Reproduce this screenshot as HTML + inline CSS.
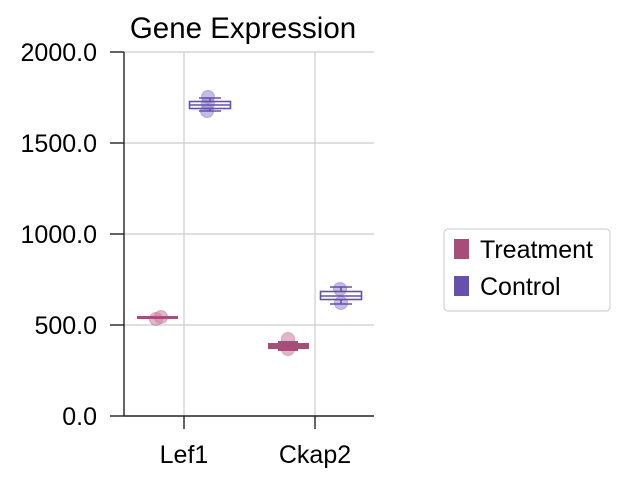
<!DOCTYPE html>
<html><head><style>body{margin:0;background:#fff}</style></head><body>
<svg width="626" height="483" xmlns="http://www.w3.org/2000/svg" font-family="Liberation Sans, sans-serif">
<rect width="626" height="483" fill="#fff"/>
<g stroke="#cccccc" stroke-width="1.2">
<line x1="124" x2="374" y1="52" y2="52"/>
<line x1="124" x2="374" y1="143" y2="143"/>
<line x1="124" x2="374" y1="234" y2="234"/>
<line x1="124" x2="374" y1="325" y2="325"/>
<line x1="184" x2="184" y1="52" y2="416"/>
<line x1="315" x2="315" y1="52" y2="416"/>
</g>
<g stroke="#222" stroke-width="1.4">
<line x1="124" x2="124" y1="52" y2="416"/>
<line x1="124" x2="374" y1="416" y2="416"/>
<line x1="110" x2="124" y1="52" y2="52"/><line x1="110" x2="124" y1="143" y2="143"/>
<line x1="110" x2="124" y1="234" y2="234"/><line x1="110" x2="124" y1="325" y2="325"/>
<line x1="110" x2="124" y1="416" y2="416"/>
<line x1="184" x2="184" y1="416" y2="429"/><line x1="315" x2="315" y1="416" y2="429"/>
</g>
<g font-size="25" fill="#000" text-anchor="end">
<text x="97" y="61">2000.0</text><text x="97" y="152">1500.0</text>
<text x="97" y="243">1000.0</text><text x="97" y="334">500.0</text><text x="97" y="425">0.0</text>
</g>
<g font-size="25" text-anchor="middle">
<text x="184" y="463">Lef1</text><text x="315" y="463">Ckap2</text>
<text x="243" y="38" font-size="29.5">Gene Expression</text>
</g>
<g fill="#9b8fd0" fill-opacity="0.6" stroke="#8a7cc9" stroke-opacity="0.5">
<circle cx="208" cy="97" r="6.5"/><circle cx="208" cy="104" r="6.5"/><circle cx="207" cy="111" r="6.5"/>
<circle cx="340" cy="289" r="6.5"/><circle cx="341" cy="303" r="6.5"/>
</g>
<g fill="#c987a5" fill-opacity="0.6" stroke="#c0789a" stroke-opacity="0.5">
<circle cx="156" cy="319" r="6.5"/><circle cx="161" cy="317" r="6.5"/>
<circle cx="288" cy="339" r="6.5"/><circle cx="288" cy="349" r="6.5"/>
</g>
<g stroke="#6550ae" stroke-width="1.6" fill="none">
<rect x="189.5" y="101.5" width="41" height="7"/><line x1="189" x2="231" y1="105" y2="105"/>
<line x1="210" x2="210" y1="98" y2="101"/><line x1="210" x2="210" y1="109" y2="111"/>
<line x1="199" x2="221" y1="98" y2="98"/><line x1="199" x2="221" y1="111" y2="111"/>
<rect x="320.5" y="291.5" width="41" height="8"/><line x1="320" x2="362" y1="296" y2="296"/>
<line x1="341" x2="341" y1="287" y2="291"/><line x1="341" x2="341" y1="300" y2="304"/>
<line x1="330" x2="352" y1="287" y2="287"/><line x1="330" x2="352" y1="304" y2="304"/>
</g>
<g fill="#a84c78">
<rect x="137" y="316" width="41" height="3"/>
<rect x="268" y="343" width="41" height="6"/><rect x="278" y="341" width="20" height="10"/>
</g>
<rect x="444" y="229" width="166" height="82" rx="4" fill="#fff" stroke="#d4d4d4" stroke-width="1.2"/>
<rect x="454" y="239" width="15" height="20" fill="#a84c78"/>
<rect x="454" y="276" width="15" height="20" fill="#6550ae"/>
<text x="480" y="258" font-size="25">Treatment</text>
<text x="480" y="295" font-size="25">Control</text>
</svg>
</body></html>
